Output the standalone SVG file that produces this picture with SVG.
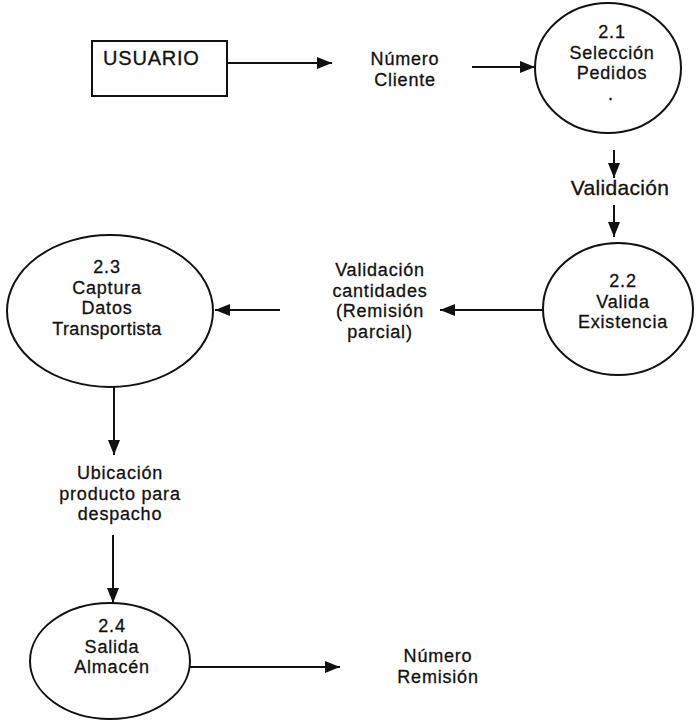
<svg xmlns="http://www.w3.org/2000/svg" width="698" height="725" viewBox="0 0 698 725">
  <style>
    .shape { fill: #ffffff; stroke: #111111; stroke-width: 2; }
    .flow { fill: none; stroke: #111111; stroke-width: 2; }
    text { font-family: "Liberation Sans", Arial, sans-serif; font-size: 18px; letter-spacing: 0.8px; fill: #111111; stroke: #111111; stroke-width: 0.3; }
    .c { text-anchor: middle; }
  </style>
  <defs>
    <marker id="ah" viewBox="0 0 15 12" refX="15" refY="6" markerWidth="15" markerHeight="12" orient="auto" markerUnits="userSpaceOnUse">
      <path d="M0,0 L15,6 L0,12 z" fill="#111111"/>
    </marker>
  </defs>
  <rect width="698" height="725" fill="#ffffff"/>

  <!-- external entity -->
  <g id="usuario">
    <rect class="shape" x="92" y="41" width="135" height="55"/>
    <text x="103" y="65" style="font-size:20px">USUARIO</text>
  </g>

  <!-- processes -->
  <g id="p21">
    <ellipse class="shape" cx="608" cy="68" rx="73" ry="65"/>
    <text class="c" x="612" y="38">2.1</text>
    <text class="c" x="612" y="58.5">Selección</text>
    <text class="c" x="612" y="79">Pedidos</text>
    <text class="c" x="611" y="100">.</text>
  </g>
  <g id="p22">
    <ellipse class="shape" cx="618" cy="309" rx="75" ry="66"/>
    <text class="c" x="623" y="287">2.2</text>
    <text class="c" x="623" y="307.5">Valida</text>
    <text class="c" x="623" y="328">Existencia</text>
  </g>
  <g id="p23">
    <ellipse class="shape" cx="110" cy="311" rx="103" ry="76"/>
    <text class="c" x="107" y="273">2.3</text>
    <text class="c" x="107" y="293.5">Captura</text>
    <text class="c" x="107" y="314">Datos</text>
    <text class="c" x="107" y="334.5" style="letter-spacing:0.4px">Transportista</text>
  </g>
  <g id="p24">
    <ellipse class="shape" cx="110" cy="661" rx="80" ry="58"/>
    <text class="c" x="112" y="632">2.4</text>
    <text class="c" x="112" y="652.5">Salida</text>
    <text class="c" x="112" y="673">Almacén</text>
  </g>

  <!-- data flows -->
  <g id="flows">
    <line class="flow" x1="227" y1="63" x2="332" y2="63" marker-end="url(#ah)"/>
    <line class="flow" x1="472" y1="67" x2="535" y2="67" marker-end="url(#ah)"/>
    <line class="flow" x1="614" y1="150" x2="614" y2="178" marker-end="url(#ah)"/>
    <line class="flow" x1="614" y1="205" x2="614" y2="237" marker-end="url(#ah)"/>
    <line class="flow" x1="543" y1="310" x2="440" y2="310" marker-end="url(#ah)"/>
    <line class="flow" x1="280" y1="310" x2="215" y2="310" marker-end="url(#ah)"/>
    <line class="flow" x1="114" y1="387" x2="114" y2="455" marker-end="url(#ah)"/>
    <line class="flow" x1="113" y1="535" x2="113" y2="603" marker-end="url(#ah)"/>
    <line class="flow" x1="190" y1="667" x2="340" y2="667" marker-end="url(#ah)"/>
  </g>

  <!-- flow labels -->
  <g id="labels">
    <text class="c" x="405" y="65">Número</text>
    <text class="c" x="405" y="85.5">Cliente</text>
    <text class="c" x="620" y="195" style="font-size:21px;letter-spacing:0.3px">Validación</text>
    <text class="c" x="380" y="276">Validación</text>
    <text class="c" x="380" y="296.5">cantidades</text>
    <text class="c" x="380" y="317">(Remisión</text>
    <text class="c" x="380" y="337.5">parcial)</text>
    <text class="c" x="120" y="479">Ubicación</text>
    <text class="c" x="120" y="499.5">producto para</text>
    <text class="c" x="120" y="520">despacho</text>
    <text class="c" x="438" y="662">Número</text>
    <text class="c" x="438" y="682.5">Remisión</text>
  </g>
</svg>
